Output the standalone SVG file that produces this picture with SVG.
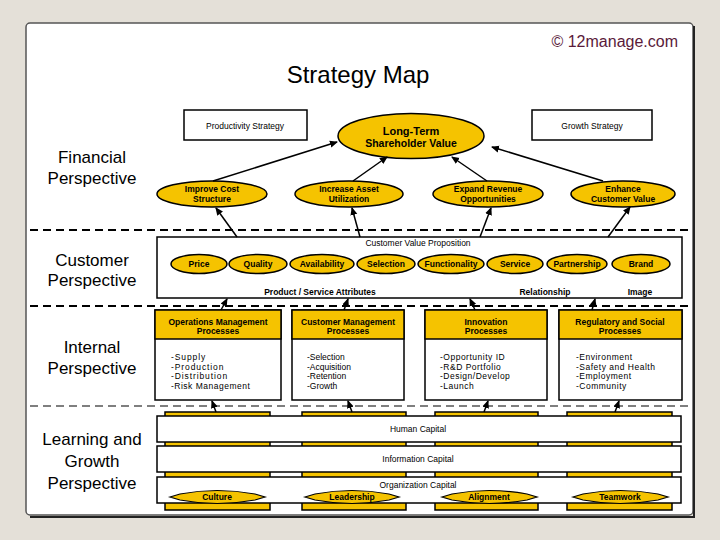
<svg xmlns="http://www.w3.org/2000/svg" width="720" height="540" viewBox="0 0 720 540">
<style>
text{font-family:"Liberation Sans",Arial,sans-serif;fill:#000}
.persp{font-size:17px;text-anchor:middle}
.sm{font-size:8.5px;text-anchor:middle}
.b{font-weight:bold}
.yel{fill:#f5c300;stroke:#000;stroke-width:1.5}
.box{fill:#fff;stroke:#000;stroke-width:1.5}
.dash{stroke:#000;stroke-width:2;stroke-dasharray:8 5;fill:none}
.con{stroke:#000;stroke-width:1.5;fill:none;marker-end:url(#ah)}
.list{font-size:8.5px}
</style>
<defs>
<marker id="ah" markerWidth="8" markerHeight="8" refX="7" refY="4" orient="auto" markerUnits="userSpaceOnUse">
<path d="M0,0.5 L8,4 L0,7.5 Z" fill="#000"/>
</marker>
</defs>
<rect x="0" y="0" width="720" height="540" fill="#e4e0d8"/>
<rect x="26" y="23" width="667" height="492" rx="4" fill="#fff" stroke="#555" stroke-width="1.5"/>
<path d="M694,26 L694,517 L30,517" fill="none" stroke="#222" stroke-width="2"/>
<text x="678" y="47" font-size="16" text-anchor="end" style="fill:#5a1a3a">© 12manage.com</text>
<text x="358" y="83" font-size="24" text-anchor="middle">Strategy Map</text>

<g id="labels">
<text class="persp" x="92" y="163">Financial</text>
<text class="persp" x="92" y="184">Perspective</text>
<text class="persp" x="92" y="266">Customer</text>
<text class="persp" x="92" y="286">Perspective</text>
<text class="persp" x="92" y="353">Internal</text>
<text class="persp" x="92" y="374">Perspective</text>
<text class="persp" x="92" y="445">Learning and</text>
<text class="persp" x="92" y="467">Growth</text>
<text class="persp" x="92" y="489">Perspective</text>
</g>

<g id="dividers">
<line class="dash" x1="30" y1="230" x2="690" y2="230"/>
<line class="dash" x1="30" y1="306" x2="690" y2="306"/>
<line class="dash" x1="30" y1="406" x2="690" y2="406" style="stroke-width:1.2"/>
</g>

<g id="productivity-strategy">
<rect class="box" x="184" y="110" width="123" height="30"/>
<text class="sm" x="245" y="129">Productivity Strategy</text>
</g>
<g id="growth-strategy">
<rect class="box" x="532" y="110" width="120" height="30"/>
<text class="sm" x="592" y="129">Growth Strategy</text>
</g>
<g id="long-term">
<ellipse class="yel" cx="411" cy="136" rx="73" ry="22.5"/>
<text class="b" x="411" y="135" font-size="11" text-anchor="middle">Long-Term</text>
<text class="b" x="411" y="147" font-size="10.5" text-anchor="middle">Shareholder Value</text>
</g>
<g id="improve-cost">
<ellipse class="yel" cx="212" cy="194" rx="55" ry="13"/>
<text class="sm b" x="212" y="192">Improve Cost</text>
<text class="sm b" x="212" y="202">Structure</text>
</g>
<g id="increase-asset">
<ellipse class="yel" cx="349" cy="194" rx="54" ry="13"/>
<text class="sm b" x="349" y="192">Increase Asset</text>
<text class="sm b" x="349" y="202">Utilization</text>
</g>
<g id="expand-revenue">
<ellipse class="yel" cx="488" cy="194" rx="55" ry="13"/>
<text class="sm b" x="488" y="192">Expand Revenue</text>
<text class="sm b" x="488" y="202">Opportunities</text>
</g>
<g id="enhance-customer">
<ellipse class="yel" cx="623" cy="194" rx="52" ry="13"/>
<text class="sm b" x="623" y="192">Enhance</text>
<text class="sm b" x="623" y="202">Customer Value</text>
</g>

<g id="customer-value-proposition">
<rect class="box" x="157" y="237" width="525" height="61"/>
<text class="sm" x="418" y="246">Customer Value Proposition</text>
<text class="sm b" x="320" y="295">Product / Service Attributes</text>
<text class="sm b" x="545" y="295">Relationship</text>
<text class="sm b" x="640" y="295">Image</text>
</g>
<g id="price"><ellipse class="yel" cx="199" cy="264" rx="28" ry="9.5"/><text class="sm b" x="199" y="267">Price</text></g>
<g id="quality"><ellipse class="yel" cx="258" cy="264" rx="29" ry="9.5"/><text class="sm b" x="258" y="267">Quality</text></g>
<g id="availability"><ellipse class="yel" cx="322" cy="264" rx="32" ry="9.5"/><text class="sm b" x="322" y="267">Availability</text></g>
<g id="selection"><ellipse class="yel" cx="386" cy="264" rx="29" ry="9.5"/><text class="sm b" x="386" y="267">Selection</text></g>
<g id="functionality"><ellipse class="yel" cx="451" cy="264" rx="33" ry="9.5"/><text class="sm b" x="451" y="267">Functionality</text></g>
<g id="service"><ellipse class="yel" cx="515" cy="264" rx="28" ry="9.5"/><text class="sm b" x="515" y="267">Service</text></g>
<g id="partnership"><ellipse class="yel" cx="577" cy="264" rx="30" ry="9.5"/><text class="sm b" x="577" y="267">Partnership</text></g>
<g id="brand"><ellipse class="yel" cx="641" cy="264" rx="29" ry="9.5"/><text class="sm b" x="641" y="267">Brand</text></g>

<g id="operations">
<rect class="box" x="155" y="310" width="126" height="90"/>
<rect class="yel" x="155" y="310" width="126" height="29"/>
<text class="sm b" x="218" y="325">Operations Management</text>
<text class="sm b" x="218" y="334">Processes</text>
<text class="list" x="171" y="360" letter-spacing="0.9">-Supply</text>
<text class="list" x="171" y="370" letter-spacing="0.9">-Production</text>
<text class="list" x="171" y="379" letter-spacing="0.9">-Distribution</text>
<text class="list" x="171" y="389" letter-spacing="0.5">-Risk Management</text>
</g>
<g id="customer-management">
<rect class="box" x="292" y="310" width="112" height="90"/>
<rect class="yel" x="292" y="310" width="112" height="29"/>
<text class="sm b" x="348" y="325">Customer Management</text>
<text class="sm b" x="348" y="334">Processes</text>
<text class="list" x="307" y="360">-Selection</text>
<text class="list" x="307" y="370">-Acquisition</text>
<text class="list" x="307" y="379">-Retention</text>
<text class="list" x="307" y="389">-Growth</text>
</g>
<g id="innovation">
<rect class="box" x="425" y="310" width="122" height="90"/>
<rect class="yel" x="425" y="310" width="122" height="29"/>
<text class="sm b" x="486" y="325">Innovation</text>
<text class="sm b" x="486" y="334">Processes</text>
<text class="list" x="440" y="360" letter-spacing="0.5">-Opportunity ID</text>
<text class="list" x="440" y="370" letter-spacing="0.5">-R&amp;D Portfolio</text>
<text class="list" x="440" y="379" letter-spacing="0.5">-Design/Develop</text>
<text class="list" x="440" y="389" letter-spacing="0.5">-Launch</text>
</g>
<g id="regulatory">
<rect class="box" x="559" y="310" width="123" height="90"/>
<rect class="yel" x="559" y="310" width="123" height="29"/>
<text class="sm b" x="620" y="325">Regulatory and Social</text>
<text class="sm b" x="620" y="334">Processes</text>
<text class="list" x="576" y="360" letter-spacing="0.5">-Environment</text>
<text class="list" x="576" y="370" letter-spacing="0.5">-Safety and Health</text>
<text class="list" x="576" y="379" letter-spacing="0.5">-Employment</text>
<text class="list" x="576" y="389" letter-spacing="0.5">-Community</text>
</g>

<g id="learning-columns">
<rect class="yel" x="165" y="412" width="105" height="98"/>
<rect class="yel" x="302" y="412" width="104" height="98"/>
<rect class="yel" x="435" y="412" width="103" height="98"/>
<rect class="yel" x="567" y="412" width="105" height="98"/>
</g>
<g id="human-capital">
<rect class="box" x="157" y="416" width="524" height="26"/>
<text class="sm" x="418" y="432">Human Capital</text>
</g>
<g id="information-capital">
<rect class="box" x="157" y="446" width="524" height="26"/>
<text class="sm" x="418" y="462">Information Capital</text>
</g>
<g id="organization-capital">
<rect class="box" x="157" y="477" width="524" height="26"/>
<text class="sm" x="418" y="488">Organization Capital</text>
</g>
<g id="culture">
<path class="yel" d="M170,497 L180,494 Q217,487 255,494 L265,497 L255,500 Q217,507 180,500 Z" style="stroke-width:1.2"/>
<text class="sm b" x="217" y="500">Culture</text>
</g>
<g id="leadership">
<path class="yel" d="M305,497 L315,494 Q352,487 389,494 L399,497 L389,500 Q352,507 315,500 Z" style="stroke-width:1.2"/>
<text class="sm b" x="352" y="500">Leadership</text>
</g>
<g id="alignment">
<path class="yel" d="M442,497 L452,494 Q489,487 527,494 L537,497 L527,500 Q489,507 452,500 Z" style="stroke-width:1.2"/>
<text class="sm b" x="489" y="500">Alignment</text>
</g>
<g id="teamwork">
<path class="yel" d="M573,497 L583,494 Q620,487 658,494 L668,497 L658,500 Q620,507 583,500 Z" style="stroke-width:1.2"/>
<text class="sm b" x="620" y="500">Teamwork</text>
</g>

<g id="connectors">
<line class="con" x1="213" y1="181" x2="337" y2="142"/>
<line class="con" x1="353" y1="181" x2="387" y2="157"/>
<line class="con" x1="487" y1="181" x2="452" y2="157"/>
<line class="con" x1="603" y1="181" x2="492" y2="147"/>
<line class="con" x1="237" y1="237" x2="216" y2="208"/>
<line class="con" x1="360" y1="237" x2="352" y2="208"/>
<line class="con" x1="480" y1="237" x2="491" y2="208"/>
<line class="con" x1="608" y1="237" x2="630" y2="207"/>
<line class="con" x1="221" y1="310" x2="227" y2="299"/>
<line class="con" x1="344" y1="310" x2="348" y2="299"/>
<line class="con" x1="475" y1="310" x2="470" y2="299"/>
<line class="con" x1="592" y1="310" x2="595" y2="299"/>
<line class="con" x1="216" y1="412" x2="212" y2="401"/>
<line class="con" x1="352" y1="412" x2="348" y2="401"/>
<line class="con" x1="484" y1="412" x2="488" y2="401"/>
<line class="con" x1="615" y1="412" x2="619" y2="401"/>
</g>
</svg>
